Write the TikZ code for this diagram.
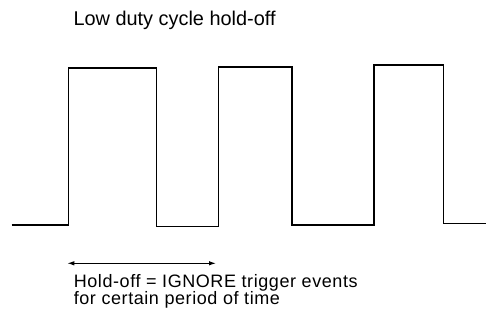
\documentclass[tikz,border=0pt]{standalone}
\usepackage{fontspec}
\setmainfont{Liberation Sans}
\newfontfamily\bodyfont[LetterSpace=3.2]{Liberation Sans}
\usetikzlibrary{arrows.meta}
\begin{document}
\begin{tikzpicture}[x=1pt,y=-1pt,
  wave/.style={line width=1.7pt,line join=miter,line cap=butt},
  holdarrow/.style={line width=1.1pt,{Latex[length=7pt,width=4.5pt]}-{Latex[length=7pt,width=4.5pt]}},
  titletext/.style={anchor=base west,inner sep=0pt,font={\fontsize{19.9}{22}\selectfont}},
  bodytext/.style={anchor=base west,inner sep=0pt,align=left,font={\bodyfont\fontsize{18}{15.3}\selectfont}}]
\useasboundingbox (0,0) rectangle (486,320);
\node[titletext] (title) at (73.3,25.5) {Low duty cycle hold-off};
\draw[wave] (11.7,225) -- (68.4,225) -- (68.4,67.7) -- (156.4,67.7) -- (156.4,226.6)
  -- (218.6,226.6) -- (218.6,67) -- (291.8,67) -- (291.8,225.3)
  -- (374,225.3) -- (374,65) -- (443.5,65) -- (443.5,223.6) -- (486,223.6);
\coordinate (hl) at (67.3,263.3);
\coordinate (hr) at (216,263.3);
\draw[holdarrow] (hl) -- (hr);
\node[bodytext] (note) at (73.6,304.8) {Hold-off = IGNORE trigger events\\for certain period of time};
\end{tikzpicture}
\end{document}
